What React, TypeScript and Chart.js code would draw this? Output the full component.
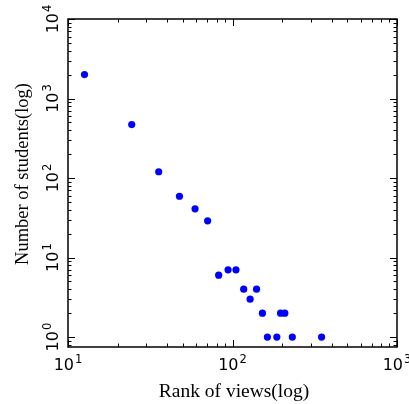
import React, { useEffect, useRef } from "react";
import { Chart, registerables } from "chart.js";

Chart.register(...registerables);

const rankViews = [12.6, 24.4, 35.6, 47.6, 59.2, 70.6, 82.4, 94, 105, 117, 140, 128, 152, 196, 208, 163, 186, 231, 348];
const numStudents = [2000, 470, 120, 59, 41, 29, 6, 7, 7, 4, 4, 3, 2, 2, 2, 1, 1, 1, 1];
const xTickExps = [1, 2, 3];
const yTickExps = [0, 1, 2, 3, 4];
const xTitle = "Rank of views(log)";
const yTitle = "Number of students(log)";
const supDigits: Record<string, string> = { "0": "0", "1": "1", "2": "2", "3": "3", "4": "4" };

const W = 409;
const H = 404;

function drawPow(ctx: CanvasRenderingContext2D, exp: number) {
  // draws "10^exp" centred at origin, baseline at y=0
  const big = "16px 'DejaVu Sans'";
  const small = "11.5px 'DejaVu Sans'";
  ctx.font = big;
  const w10 = ctx.measureText("10").width;
  ctx.font = small;
  const ws = ctx.measureText(supDigits[String(exp)] ?? String(exp)).width;
  const total = w10 + ws + 1;
  const x0 = -total / 2;
  ctx.textAlign = "left";
  ctx.textBaseline = "alphabetic";
  ctx.font = big;
  ctx.fillText("10", x0, 0);
  ctx.font = small;
  ctx.fillText(String(exp), x0 + w10 + 1, -7.5);
}

const framePlugin = {
  id: "mplFrame",
  afterDraw(chart: any) {
    const { ctx, chartArea } = chart;
    const xs = chart.scales.x;
    const ys = chart.scales.y;
    const { left, right, top, bottom } = chartArea;
    ctx.save();
    ctx.strokeStyle = "#000";
    ctx.fillStyle = "#000";
    // ticks
    ctx.lineWidth = 1;
    const majorLen = 7;
    const minorLen = 3.5;
    const xMinE = Math.min(...xTickExps);
    const xMaxE = Math.max(...xTickExps);
    for (let e = xMinE; e <= xMaxE; e++) {
      for (let m = 1; m <= 9; m++) {
        const v = m * Math.pow(10, e);
        if (v < xs.min - 1e-9 || v > xs.max + 1e-9) continue;
        const px = Math.round(xs.getPixelForValue(v)) + 0.5;
        const len = m === 1 ? majorLen : minorLen;
        ctx.beginPath();
        ctx.moveTo(px, bottom);
        ctx.lineTo(px, bottom - len);
        ctx.moveTo(px, top);
        ctx.lineTo(px, top + len);
        ctx.stroke();
      }
    }
    for (let e = -1; e <= Math.max(...yTickExps); e++) {
      for (let m = 1; m <= 9; m++) {
        const v = m * Math.pow(10, e);
        if (v < ys.min - 1e-9 || v > ys.max + 1e-9) continue;
        const py = Math.round(ys.getPixelForValue(v)) + 0.5;
        const len = m === 1 ? majorLen : minorLen;
        ctx.beginPath();
        ctx.moveTo(left, py);
        ctx.lineTo(left + len, py);
        ctx.moveTo(right, py);
        ctx.lineTo(right - len, py);
        ctx.stroke();
      }
    }
    // frame
    ctx.lineWidth = 1.5;
    ctx.strokeRect(left, top, right - left, bottom - top);
    // x tick labels
    for (const e of xTickExps) {
      const px = xs.getPixelForValue(Math.pow(10, e));
      ctx.save();
      ctx.translate(px, bottom + 23);
      drawPow(ctx, e);
      ctx.restore();
    }
    // y tick labels (rotated)
    for (const e of yTickExps) {
      const py = ys.getPixelForValue(Math.pow(10, e));
      ctx.save();
      ctx.translate(left - 10, py);
      ctx.rotate(-Math.PI / 2);
      drawPow(ctx, e);
      ctx.restore();
    }
    // titles
    ctx.font = "19.5px 'Liberation Serif'";
    ctx.textAlign = "center";
    ctx.textBaseline = "alphabetic";
    ctx.fillText(xTitle, 234, 397);
    ctx.save();
    ctx.translate(28, 174);
    ctx.rotate(-Math.PI / 2);
    ctx.font = "18.5px 'Liberation Serif'";
    ctx.fillText(yTitle, 0, 0);
    ctx.restore();
    ctx.restore();
  },
};

export default function App() {
  const ref = useRef<HTMLCanvasElement | null>(null);
  useEffect(() => {
    if (!ref.current) return;
    const chart = new Chart(ref.current, {
      type: "scatter",
      data: {
        datasets: [
          {
            data: rankViews.map((x, i) => ({ x, y: numStudents[i] })),
            backgroundColor: "#0000ff",
            borderWidth: 0,
            pointRadius: 3.6,
            pointHoverRadius: 3.6,
          },
        ],
      },
      options: {
        animation: false,
        responsive: false,
        maintainAspectRatio: false,
        layout: { padding: { left: 68, top: 19, right: 12, bottom: 57 } },
        plugins: { legend: { display: false }, tooltip: { enabled: false } },
        events: [],
        scales: {
          x: { type: "logarithmic", min: 10, max: 1000, display: false },
          y: { type: "logarithmic", min: 0.75, max: 10000, display: false },
        },
      },
      plugins: [framePlugin],
    });
    return () => chart.destroy();
  }, []);
  return (
    <div style={{ position: "fixed", left: 0, top: 0, width: W, height: H, background: "#fff" }}>
      <canvas ref={ref} width={W} height={H} style={{ display: "block", width: W, height: H }} />
    </div>
  );
}
